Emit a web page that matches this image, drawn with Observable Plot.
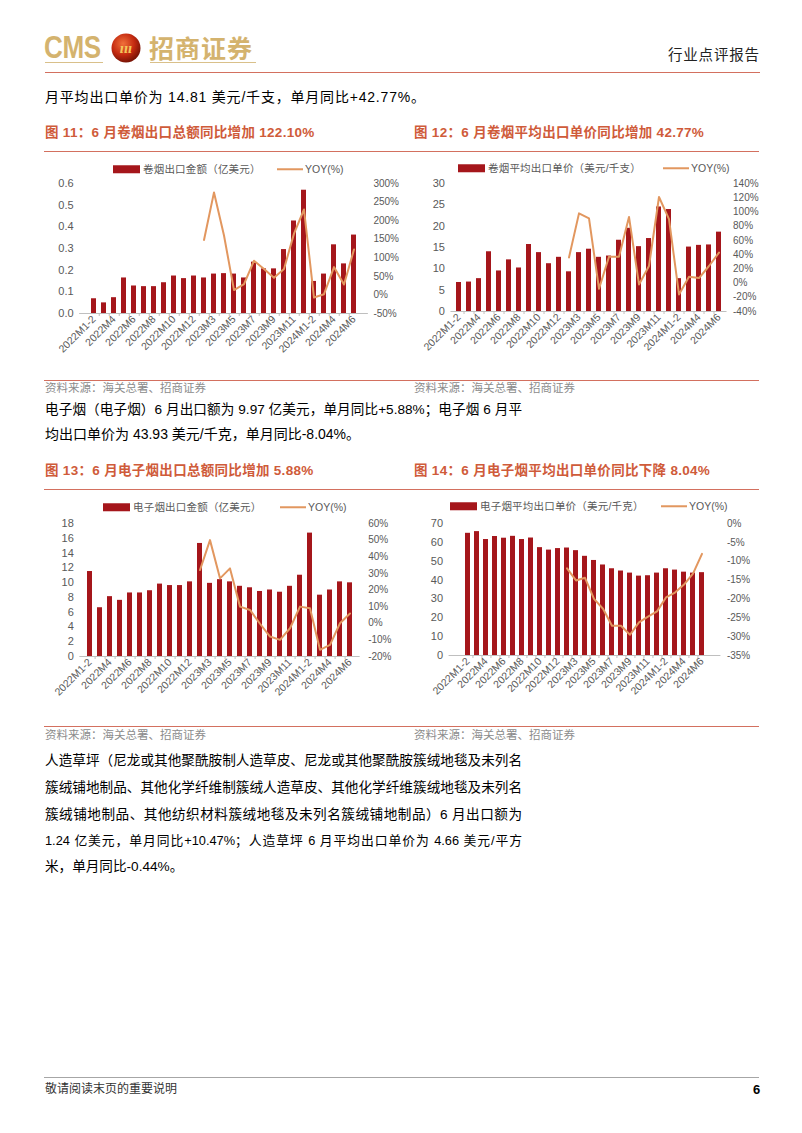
<!DOCTYPE html>
<html>
<head>
<meta charset="utf-8">
<script src="https://cdn.jsdelivr.net/npm/d3@7"></script>
<script src="https://cdn.jsdelivr.net/npm/@observablehq/plot@0.6"></script>
<style>
  html, body { margin: 0; padding: 0; background: #fff; }
  #page { position: relative; width: 802px; height: 1133px; overflow: hidden; background: #fff;
    font-family: "Liberation Sans", Arial, "Noto Sans CJK SC", sans-serif; color: #000; }
  .abs { position: absolute; white-space: nowrap; line-height: 1; transform: translateY(-50%); }
  .hline { position: absolute; height: 0; }
  .title { color: #cf5b3a; font-size: 13.5px; font-weight: bold; letter-spacing: 0.3px; }
  .src { color: #8c8c8c; font-size: 11.5px; }
  .body { font-size: 14px; }
  .just { width: 477px; white-space: normal; overflow: hidden; height: 16px; font-size: 13.6px; line-height: 16px;
    text-align: justify; text-align-last: justify; text-justify: inter-character; }
  .legend { position: absolute; font-size: 10.5px; color: #595959; line-height: 1; transform: translateY(-50%); white-space: nowrap; }
  .chart { position: absolute; }
  .chart svg { background: transparent !important; overflow: visible; }
</style>
</head>
<body>
<div id="page">
  <!-- header -->
  <div class="abs" id="cms" style="left:44px; top:47px; font-size:31px; font-weight:bold; color:#d4b36e; transform: translateY(-50%) scaleX(0.84); transform-origin: left center; letter-spacing:-0.5px;">CMS</div>
  <svg style="position:absolute; left:110px; top:32px;" width="32" height="32" viewBox="0 0 32 32">
    <defs>
      <radialGradient id="lg" cx="40%" cy="35%" r="65%">
        <stop offset="0%" stop-color="#f0703a"/>
        <stop offset="60%" stop-color="#c42a10"/>
        <stop offset="100%" stop-color="#7a1406"/>
      </radialGradient>
    </defs>
    <circle cx="16" cy="16" r="14.5" fill="url(#lg)"/>
    <text x="16" y="21" text-anchor="middle" font-size="15" font-weight="bold" font-style="italic" fill="#f3c75a" font-family="Liberation Serif, serif">ııı</text>
  </svg>
  <div class="abs" style="left:149px; top:47px; font-size:25px; font-weight:bold; color:#d4b36e; font-family:'Noto Sans CJK SC'; letter-spacing:1px;">招商证券</div>
  <div class="hline" style="left:45px; top:62px; width:58px; border-top:1px solid #d9c08a;"></div>
  <div class="hline" style="left:150px; top:62px; width:106px; border-top:1px solid #d9c08a;"></div>
  <div class="abs" style="left:668px; top:55px; font-size:14.5px; color:#222; letter-spacing:0.8px;">行业点评报告</div>
  <div class="hline" style="left:45px; top:72px; width:715px; border-top:1px solid #d3705f;"></div>

  <div class="abs body" style="left:45px; top:97px; letter-spacing:0.8px;">月平均出口单价为 14.81 美元/千支，单月同比+42.77%。</div>

  <div class="abs title" style="left:45px; top:133px;">图 11：6 月卷烟出口总额同比增加 122.10%</div>
  <div class="abs title" style="left:414px; top:133px;">图 12：6 月卷烟平均出口单价同比增加 42.77%</div>
  <div class="hline" style="left:44px; top:151px; width:715px; border-top:1.5px solid #d3705f;"></div>

  <div class="hline" style="left:44px; top:380px; width:715px; border-top:1.5px solid #d3705f;"></div>
  <div class="abs src" style="left:45px; top:389px;">资料来源：海关总署、招商证券</div>
  <div class="abs src" style="left:414px; top:389px;">资料来源：海关总署、招商证券</div>

  <div class="abs body just" style="left:45px; top:410px;">电子烟（电子烟）6 月出口额为 9.97 亿美元，单月同比+5.88%；电子烟 6 月平</div>
  <div class="abs body" style="left:45px; top:434px;">均出口单价为 43.93 美元/千克，单月同比-8.04%。</div>

  <div class="abs title" style="left:45px; top:471px;">图 13：6 月电子烟出口总额同比增加 5.88%</div>
  <div class="abs title" style="left:414px; top:471px;">图 14：6 月电子烟平均出口单价同比下降 8.04%</div>
  <div class="hline" style="left:44px; top:489px; width:715px; border-top:1.5px solid #d3705f;"></div>

  <div class="hline" style="left:44px; top:726px; width:715px; border-top:1.5px solid #d3705f;"></div>
  <div class="abs src" style="left:45px; top:736px;">资料来源：海关总署、招商证券</div>
  <div class="abs src" style="left:414px; top:736px;">资料来源：海关总署、招商证券</div>

  <div class="abs body just" style="left:45px; top:761px;">人造草坪（尼龙或其他聚酰胺制人造草皮、尼龙或其他聚酰胺簇绒地毯及未列名</div>
  <div class="abs body just" style="left:45px; top:788px;">簇绒铺地制品、其他化学纤维制簇绒人造草皮、其他化学纤维簇绒地毯及未列名</div>
  <div class="abs body just" style="left:45px; top:815px;">簇绒铺地制品、其他纺织材料簇绒地毯及未列名簇绒铺地制品）6 月出口额为</div>
  <div class="abs body just" style="left:45px; top:841px; font-size:12.8px;">1.24 亿美元，单月同比+10.47%；人造草坪 6 月平均出口单价为 4.66 美元/平方</div>
  <div class="abs body" style="left:45px; top:867px; font-size:13.6px;">米，单月同比-0.44%。</div>

  <div class="hline" style="left:44px; top:1077px; width:715px; border-top:1px solid #a6a6a6;"></div>
  <div class="abs" style="left:45px; top:1089px; font-size:12px; color:#333;">敬请阅读末页的重要说明</div>
  <div class="abs" style="left:753px; top:1089px; font-size:13px; font-weight:bold; color:#000;">6</div>
</div>

<script>
// ---- data ----
const categories = ["2022M1-2","2022M3","2022M4","2022M5","2022M6","2022M7","2022M8","2022M9","2022M10","2022M11","2022M12",
  "2023M1-2","2023M3","2023M4","2023M5","2023M6","2023M7","2023M8","2023M9","2023M10","2023M11","2023M12",
  "2024M1-2","2024M3","2024M4","2024M5","2024M6"];
const yoyCategories = categories.slice(11);

// 图11 卷烟出口金额（亿美元）
const cigExportValue = [0.068,0.049,0.073,0.164,0.127,0.124,0.124,0.142,0.173,0.161,0.173,
  0.164,0.182,0.184,0.182,0.164,0.237,0.206,0.206,0.295,0.427,0.569,
  0.148,0.182,0.317,0.229,0.362];
const cigExportYoy = [148,276,160,13,29,92,70,46,70,165,230,-7,2,75,28,122.1];

// 图12 卷烟平均出口单价（美元/千支）
const cigUnitPrice = [6.8,6.9,7.7,14.0,9.5,12.1,10.2,15.7,13.8,11.2,12.7,
  9.3,13.8,14.6,12.7,13.0,16.7,19.5,15.2,17.1,24.5,23.9,
  7.7,15.1,15.5,15.6,18.6];
const cigUnitYoy = [36,98,91,-8,37,37,93,-2,24,121,90,-16,9,7,24,42.77];

// 图13 电子烟出口金额（亿美元）
const ecigExportValue = [11.5,6.6,8.1,7.6,8.6,8.6,8.9,9.8,9.6,9.6,10.1,
  15.3,9.9,10.4,10.1,9.5,9.3,8.8,9.0,8.7,9.5,11.0,
  16.7,8.3,9.0,10.1,9.97];
const ecigExportYoy = [32,50,27,33,10,8,-0.3,-8,-10,-3,10,9,-16,-13,0,5.88];

// 图14 电子烟平均出口单价（美元/千克）
const ecigUnitPrice = [64.8,65.7,61.5,63.1,62.2,63.2,61.5,62.3,57.2,55.9,56.7,
  57.0,55.6,52.6,50.4,48.0,46.0,44.8,43.7,42.1,42.3,43.7,
  46.0,45.3,44.2,43.7,43.93];
const ecigUnitYoy = [-11.9,-15.1,-14.4,-20.0,-22.6,-27.1,-27.1,-29.5,-26.2,-24.7,-23.3,-19.6,-18.3,-16.2,-13.3,-8.04];

// axis ticks
const t11L = [0,0.1,0.2,0.3,0.4,0.5,0.6], t11R = [-50,0,50,100,150,200,250,300];
const t12L = [0,5,10,15,20,25,30], t12R = [-40,-20,0,20,40,60,80,100,120,140];
const t13L = [0,2,4,6,8,10,12,14,16,18], t13R = [-20,-10,0,10,20,30,40,50,60];
const t14L = [0,10,20,30,40,50,60,70], t14R = [-35,-30,-25,-20,-15,-10,-5,0];

const legendNames = [
  ["卷烟出口金额（亿美元）","YOY(%)"],
  ["卷烟平均出口单价（美元/千支）","YOY(%)"],
  ["电子烟出口金额（亿美元）","YOY(%)"],
  ["电子烟平均出口单价（美元/千克）","YOY(%)"]
];

const BAR = "#a5161b", LINE = "#e2975f", AXIS = "#bfbfbf", TXT = "#595959";
const page = document.getElementById("page");

function dual(cfg) {
  const n = categories.length, p = 0.5;
  const s = (cfg.c1 - cfg.c0) / (n - 1);
  const x0 = cfg.c0 - s * (1 + p) / 2, x1 = cfg.c1 + s * (1 + p) / 2;
  const marginLeft = x0 - cfg.left, marginRight = cfg.left + cfg.width - x1;
  const marginTop = cfg.yTop - cfg.top, marginBottom = cfg.top + cfg.height - cfg.yBot;
  const yDom = [cfg.lTicks[0], cfg.lTicks[cfg.lTicks.length - 1]];
  const rDom = [cfg.rTicks[0], cfg.rTicks[cfg.rTicks.length - 1]];
  const toL = d3.scaleLinear().domain(rDom).range(yDom);
  const bars = categories.map((c, i) => ({cat: c, v: cfg.bars[i]}));
  const line = yoyCategories.map((c, i) => ({cat: c, v: toL(cfg.yoy[i])}));
  const chart = Plot.plot({
    width: cfg.width, height: cfg.height,
    marginLeft, marginRight, marginTop, marginBottom,
    style: {fontFamily: "'Liberation Sans', Arial, sans-serif", color: TXT, background: "transparent", overflow: "visible"},
    x: {type: "band", domain: categories, padding: p, label: null, axis: null},
    y: {domain: yDom, label: null, axis: null},
    marks: [
      Plot.barY(bars, {x: "cat", y: "v", fill: BAR}),
      Plot.ruleY([yDom[0]], {stroke: AXIS, strokeWidth: 1}),
      Plot.axisX(categories.slice(0, -1), {anchor: "bottom", tickSize: 3, tickFormat: () => "", stroke: AXIS, dx: s / 2, label: null}),
      Plot.lineY(line, {x: "cat", y: "v", stroke: LINE, strokeWidth: 2}),
      Plot.axisY(cfg.lTicks, {anchor: "left", tickSize: 0, tickPadding: 6, fontSize: 11, tickFormat: cfg.lFmt, label: null}),
      Plot.axisY(cfg.rTicks.map(toL), {anchor: "right", tickSize: 0, tickPadding: cfg.rPad, fontSize: 10, label: null,
        tickFormat: v => Math.round(toL.invert(v)) + "%"}),
      Plot.axisX(categories.filter((c, i) => i % 2 === 0), {anchor: "bottom", tickSize: 0, tickPadding: 4, tickRotate: -45, fontSize: 10.5, label: null})
    ]
  });
  const wrap = document.createElement("div");
  wrap.className = "chart";
  wrap.style.left = cfg.left + "px";
  wrap.style.top = cfg.top + "px";
  wrap.appendChild(chart);
  page.appendChild(wrap);

  // legend
  const lg = cfg.legend;
  const a = document.createElement("div");
  a.className = "legend";
  a.style.left = lg.rect + "px"; a.style.top = lg.y + "px";
  a.innerHTML = `<span style="display:inline-block;width:27px;height:8px;background:${BAR};vertical-align:middle;margin-right:3px;"></span><span style="vertical-align:middle;letter-spacing:0.2px;">${cfg.names[0]}</span>`;
  page.appendChild(a);
  const b = document.createElement("div");
  b.className = "legend";
  b.style.left = lg.line + "px"; b.style.top = lg.y + "px";
  b.innerHTML = `<span style="display:inline-block;width:26px;height:0;border-top:2px solid ${LINE};vertical-align:middle;margin-right:2px;"></span><span style="vertical-align:middle;">${cfg.names[1]}</span>`;
  page.appendChild(b);
}

const f1 = d3.format(".1f"), f0 = d3.format("d");

dual({left: 40, top: 153, width: 365, height: 225, c0: 87, c1: 360, yTop: 183, yBot: 313,
  bars: cigExportValue, yoy: cigExportYoy, lTicks: t11L, rTicks: t11R, lFmt: f1, rPad: 5,
  names: legendNames[0], legend: {rect: 113, line: 277, y: 169}});
dual({left: 408, top: 153, width: 365, height: 225, c0: 458, c1: 719, yTop: 183, yBot: 311,
  bars: cigUnitPrice, yoy: cigUnitYoy, lTicks: t12L, rTicks: t12R, lFmt: f0, rPad: 6,
  names: legendNames[1], legend: {rect: 458, line: 663, y: 168}});
dual({left: 40, top: 491, width: 365, height: 232, c0: 87, c1: 352, yTop: 523, yBot: 656,
  bars: ecigExportValue, yoy: ecigExportYoy, lTicks: t13L, rTicks: t13R, lFmt: f0, rPad: 8,
  names: legendNames[2], legend: {rect: 103, line: 280, y: 507}});
dual({left: 408, top: 491, width: 365, height: 232, c0: 456, c1: 713, yTop: 523, yBot: 655,
  bars: ecigUnitPrice, yoy: ecigUnitYoy, lTicks: t14L, rTicks: t14R, lFmt: f0, rPad: 6,
  names: legendNames[3], legend: {rect: 450, line: 661, y: 506}});
</script>
</body>
</html>
